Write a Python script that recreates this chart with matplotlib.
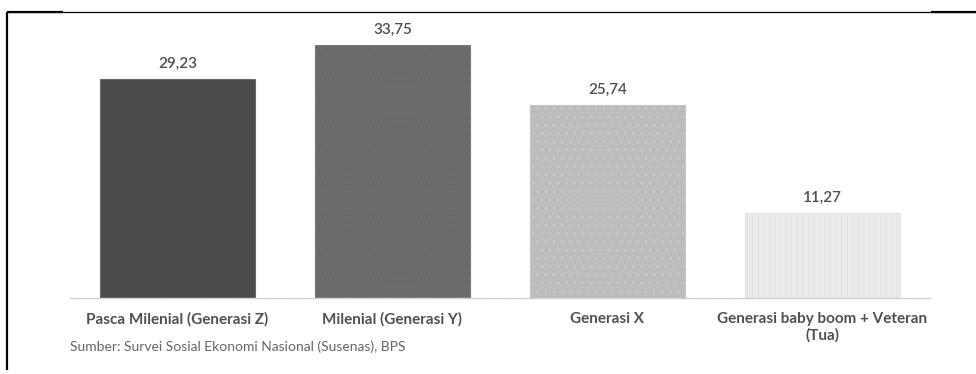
import matplotlib
matplotlib.use("Agg")
import matplotlib.pyplot as plt
from matplotlib.lines import Line2D

categories = ["Pasca Milenial (Generasi Z)", "Milenial (Generasi Y)", "Generasi X",
              "Generasi baby boom + Veteran\n(Tua)"]
values = [29.23, 33.75, 25.74, 11.27]
value_labels = ["29,23", "33,75", "25,74", "11,27"]
source_text = "Sumber: Survei Sosial Ekonomi Nasional (Susenas), BPS"

fills = ["#4a4a4a", "#6a6a6a", "#bcbcbc", "#ebebeb"]
hatches = [None, "....", "..", "|||"]
hatch_cols = ["#4a4a4a", "#727272", "#cacaca", "#e0e0e0"]
edge_cols = ["#6a6a6a", "#7a7a7a", "#c6c6c6", "#e4e4e4"]

plt.rcParams["font.family"] = ["Lato", "DejaVu Sans"]

W, H = 976, 374
fig = plt.figure(figsize=(W / 100, H / 100), dpi=100)

# axes: x from 70 to 930 px, baseline at y=298 px, top at y=20 px
left, right, top, base = 70, 930, 20, 298
ax = fig.add_axes([left / W, 1 - base / H, (right - left) / W, (base - top) / H])
ax.set_xlim(-0.5, len(categories) - 0.5)
ax.set_ylim(0, (base - top) / 7.5)

x = range(len(categories))
for i, v in enumerate(values):
    ax.bar(i, v, width=0.72, color=fills[i], edgecolor="none", zorder=2)
    if hatches[i]:
        plt.rcParams["hatch.color"] = hatch_cols[i]
        plt.rcParams["hatch.linewidth"] = 0.5
        ax.bar(i, v, width=0.72, color="none", edgecolor=hatch_cols[i],
               linewidth=0, hatch=hatches[i], zorder=3)
    ax.bar(i, v, width=0.72, color="none", edgecolor=edge_cols[i], linewidth=0.8, zorder=4)
    ax.text(i, v + 1.1, value_labels[i], ha="center", va="bottom",
            fontsize=11, color="#4f4f4f", fontweight="semibold")

for s in ["left", "right", "top"]:
    ax.spines[s].set_visible(False)
ax.spines["bottom"].set_color("#d2d2d2")
ax.spines["bottom"].set_linewidth(1.0)
ax.spines["bottom"].set_linestyle((0, (2, 0.6)))
ax.set_yticks([])
ax.set_xticks(list(x))
ax.set_xticklabels(categories, fontsize=11, color="#505050", fontweight="bold",
                   linespacing=1.2, va="top")
ax.tick_params(axis="x", length=0, pad=10)

fig.text(left / W, 1 - 347 / H, source_text, ha="left", va="center",
         fontsize=10, color="#666666")

# frame lines
def px_line(x0, y0, x1, y1, lw):
    fig.add_artist(Line2D([x0 / W, x1 / W], [1 - y0 / H, 1 - y1 / H],
                          transform=fig.transFigure, color="black", linewidth=lw,
                          solid_capstyle="butt"))

px_line(7, 12, 976, 12, 0.9)
px_line(7, 12, 63, 12, 1.6)
px_line(931, 12, 976, 12, 1.6)
px_line(7, 11.5, 7, 370, 1.6)

fig.savefig("out.png", dpi=100)
